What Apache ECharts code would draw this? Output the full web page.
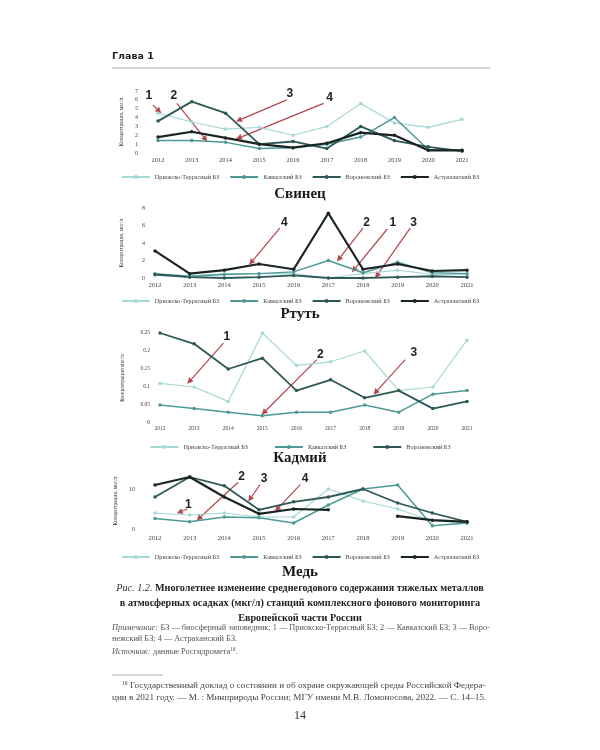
<!DOCTYPE html>
<html><head><meta charset="utf-8">
<script src="https://cdn.jsdelivr.net/npm/echarts@6/dist/echarts.min.js"></script>
<style>html,body{margin:0;padding:0;background:#fff}#c{width:600px;height:750px}</style>
</head><body><div id="c"></div>
<script>
const years = ['2012','2013','2014','2015','2016','2017','2018','2019','2020','2021'];
const nameP = 'Приокско-Террасный БЗ', nameK = 'Кавказский БЗ', nameV = 'Воронежский БЗ', nameA = 'Астраханский БЗ';
// Свинец
const pbPriok = [4.5,3.5,2.7,2.9,2.0,3.0,5.6,3.4,2.9,3.8];
const pbKavk  = [1.4,1.4,1.2,0.5,0.6,1.0,1.8,4.0,0.4,0.3];
const pbVoron = [3.6,5.8,4.5,1.0,1.3,0.5,3.0,1.4,0.7,0.2];
const pbAstr  = [1.8,2.4,1.7,1.0,0.6,1.1,2.3,2.0,0.3,0.3];
// Ртуть
const hgPriok = [0.3,0.2,0.5,0.5,0.5,0.0,0.5,0.9,0.4,0.4];
const hgKavk  = [0.5,0.2,0.4,0.5,0.7,2.0,0.6,1.8,0.6,0.5];
const hgVoron = [0.4,0.1,0.0,0.1,0.3,0.0,0.0,0.1,0.2,0.1];
const hgAstr  = [3.1,0.5,0.9,1.6,1.0,7.4,1.0,1.6,0.8,0.9];
// Кадмий
const cdPriok = [0.11,0.10,0.06,0.25,0.16,0.17,0.20,0.09,0.10,0.23];
const cdKavk  = [0.05,0.04,0.03,0.02,0.03,0.03,0.05,0.03,0.08,0.09];
const cdVoron = [0.25,0.22,0.15,0.18,0.09,0.12,0.07,0.09,0.04,0.06];
// Медь
const cuPriok = [4.0,3.5,4.0,3.0,3.0,10.0,7.0,5.0,2.0,1.5];
const cuKavk  = [2.6,1.8,3.0,2.8,1.5,6.0,10.0,11.0,0.8,1.5];
const cuVoron = [8.0,13.0,10.8,4.8,6.8,8.0,10.0,6.5,4.0,1.8];
const cuAstr  = [11.0,13.0,8.0,3.8,5.0,4.8,null,3.2,2.2,1.8];

const chartTitles = ['Свинец','Ртуть','Кадмий','Медь'];
const yNames = ['Концентрация, мкг/л','Концентрация, мкг/л','Концентрация мкг/л','Концентрация, мкг/л'];

const SERIF = 'Liberation Serif';
const styles = {};
styles[nameP] = {color:'#a6d8d5', width:1.2};
styles[nameK] = {color:'#4d9996', width:1.5};
styles[nameV] = {color:'#2e5855', width:1.8};
styles[nameA] = {color:'#1a2423', width:2.2};

const grids = [
  {left:158, right:138, top:91, height:62},
  {left:155, right:133, top:208, height:70},
  {left:160, right:133, top:333, height:90},
  {left:155, right:133, top:473, height:56}
];
const yCfg = [
  {min:0, max:7, interval:1, margin:20, nameGap:28},
  {min:0, max:8, interval:2, margin:10, nameGap:30},
  {min:0, max:0.25, interval:0.05, margin:10, nameGap:34},
  {min:0, max:14, interval:10, margin:20, nameGap:34}
];
const xMargin = [4,4,3,6];
const legendTop = [169, 293, 439, 549];

const chartSeries = [
  [[nameP,pbPriok],[nameK,pbKavk],[nameV,pbVoron],[nameA,pbAstr]],
  [[nameP,hgPriok],[nameK,hgKavk],[nameV,hgVoron],[nameA,hgAstr]],
  [[nameP,cdPriok],[nameK,cdKavk],[nameV,cdVoron]],
  [[nameP,cuPriok],[nameK,cuKavk],[nameV,cuVoron],[nameA,cuAstr]]
];

const series = [];
chartSeries.forEach((list, g) => {
  list.forEach(([nm, data]) => {
    const s = styles[nm];
    series.push({
      type:'line', name:nm, data:data, xAxisIndex:g, yAxisIndex:g,
      symbol:'circle', symbolSize:3.5, connectNulls:false, animation:false,
      lineStyle:{color:s.color, width:s.width}, itemStyle:{color:s.color},
      emphasis:{disabled:true}
    });
  });
});

const chart = echarts.init(document.getElementById('c'), null, {renderer:'canvas'});
chart.setOption({
  backgroundColor:'#fff',
  animation:false,
  grid: grids.map(g => Object.assign({containLabel:false}, g)),
  xAxis: grids.map((g,i) => ({
    type:'category', gridIndex:i, data:years, boundaryGap:false,
    axisLine:{show:false}, axisTick:{show:false}, splitLine:{show:false},
    axisLabel:{fontFamily:SERIF, fontSize: i===2?5.5:6.5, color:'#444', margin:xMargin[i], interval:0}
  })),
  yAxis: grids.map((g,i) => ({
    type:'value', gridIndex:i, min:yCfg[i].min, max:yCfg[i].max, interval:yCfg[i].interval,
    name:yNames[i], nameLocation:'middle', nameRotate:90, nameGap:yCfg[i].nameGap,
    nameTextStyle:{fontFamily:SERIF, fontSize:5.5, color:'#333'},
    axisLine:{show:false}, axisTick:{show:false}, splitLine:{show:false},
    axisLabel:{fontFamily:SERIF, fontSize: i===2?5.5:6, color:'#444', margin:yCfg[i].margin, showMaxLabel: i===3?false:true}
  })),
  legend: chartSeries.map((list,i) => ({
    top:legendTop[i], left:'center', itemWidth:28, itemHeight:5, itemGap: i===2?26:10,
    data:list.map(x=>x[0]), selectedMode:false,
    textStyle:{fontFamily:SERIF, fontSize:6.2, color:'#444'}
  })),
  series: series
});

// Annotation arrows (data-space positions: x = fractional year index, y = value)
const arrows = [
  {g:0, t:'1', lx:-0.27, ly:6.5, from:[-0.15,5.4], to:[0.1,4.5]},
  {g:0, t:'2', lx:0.47, ly:6.5, from:[0.56,5.6], to:[1.46,1.3]},
  {g:0, t:'3', lx:3.9, ly:6.7, from:[3.81,6.0], to:[2.31,3.56]},
  {g:0, t:'4', lx:5.08, ly:6.3, from:[4.9,5.6], to:[2.31,1.57]},
  {g:1, t:'4', lx:3.73, ly:6.3, from:[3.6,5.7], to:[2.72,1.52]},
  {g:1, t:'2', lx:6.1, ly:6.3, from:[6.0,5.7], to:[5.25,1.9]},
  {g:1, t:'1', lx:6.86, ly:6.3, from:[6.7,5.6], to:[5.68,0.65]},
  {g:1, t:'3', lx:7.46, ly:6.3, from:[7.36,5.7], to:[6.35,0.0]},
  {g:2, t:'1', lx:1.96, ly:0.241, from:[1.86,0.222], to:[0.80,0.109]},
  {g:2, t:'2', lx:4.7, ly:0.19, from:[4.6,0.176], to:[2.98,0.023]},
  {g:2, t:'3', lx:7.44, ly:0.194, from:[7.19,0.176], to:[6.26,0.079]},
  {g:3, t:'1', lx:0.96, ly:6.0, from:[0.93,5.0], to:[0.63,3.95]},
  {g:3, t:'2', lx:2.5, ly:13.2, from:[2.4,11.7], to:[1.2,2.1]},
  {g:3, t:'3', lx:3.15, ly:12.5, from:[3.03,11.1], to:[2.69,6.9]},
  {g:3, t:'4', lx:4.33, ly:12.5, from:[4.19,11.1], to:[3.46,4.4]}
];

function px(g, xi, yv) {
  const ym = yCfg[g].max;
  const p0 = chart.convertToPixel({gridIndex:g}, [0, 0]);
  const p1 = chart.convertToPixel({gridIndex:g}, [9, ym]);
  return [p0[0] + xi*(p1[0]-p0[0])/9, p0[1] + yv*(p1[1]-p0[1])/ym];
}

const els = [];
function txt(x, y, text, opt) {
  els.push({type:'text', x:x, y:y, silent:true, style:Object.assign({
    text:text, fill:'#222', fontFamily:SERIF, fontSize:10,
    align:'left', textAlign:'left', verticalAlign:'middle', textVerticalAlign:'middle'
  }, opt || {})});
}
const ARROW = '#b3474c';
arrows.forEach(a => {
  const f = px(a.g, a.from[0], a.from[1]);
  const t = px(a.g, a.to[0], a.to[1]);
  const l = px(a.g, a.lx, a.ly);
  const dx = t[0]-f[0], dy = t[1]-f[1], len = Math.hypot(dx,dy);
  const ux = dx/len, uy = dy/len, hl = 6, hw = 3;
  const bx = t[0]-ux*hl, by = t[1]-uy*hl;
  els.push({type:'line', silent:true, shape:{x1:f[0], y1:f[1], x2:bx, y2:by}, style:{stroke:ARROW, lineWidth:1.2}});
  els.push({type:'polygon', silent:true, shape:{points:[[t[0],t[1]],[bx-uy*hw, by+ux*hw],[bx+uy*hw, by-ux*hw]]}, style:{fill:ARROW}});
  txt(l[0], l[1], a.t, {fontFamily:'Liberation Sans', fontWeight:'bold', fontSize:12, fill:'#222', align:'center', textAlign:'center'});
});

// Page header
txt(112, 57, 'Глава 1', {fontFamily:'DejaVu Sans', fontWeight:'bold', fontSize:9.5, fill:'#222'});
els.push({type:'line', silent:true, shape:{x1:112, y1:68, x2:490, y2:68}, style:{stroke:'#aaa', lineWidth:1}});

// Chart titles
const titleY = [194, 314, 458, 572];
chartTitles.forEach((t,i) => txt(300, titleY[i], t, {fontWeight:'bold', fontSize:15, fill:'#1a1a1a', align:'center', textAlign:'center'}));

// Caption
const capRich = {
  i:{fontStyle:'italic', fontFamily:SERIF, fontSize:10.2, fill:'#333', color:'#333'},
  b:{fontWeight:'bold', fontFamily:SERIF, fontSize:10.2, fill:'#222', color:'#222'}
};
txt(300, 588, '{i|Рис. 1.2.} {b|Многолетнее изменение среднегодового содержания тяжелых металлов}', {align:'center', textAlign:'center', rich:capRich});
txt(300, 603, '{b|в атмосферных осадках (мкг/л) станций комплексного фонового мониторинга}', {align:'center', textAlign:'center', rich:capRich});
txt(300, 618, '{b|Европейской части России}', {align:'center', textAlign:'center', rich:capRich});

const noteRich = {
  i:{fontStyle:'italic', fontFamily:SERIF, fontSize:8.3, fill:'#555', color:'#555'},
  n:{fontFamily:SERIF, fontSize:8.3, fill:'#555', color:'#555'},
  s:{fontFamily:SERIF, fontSize:5.5, fill:'#555', color:'#555', verticalAlign:'top', padding:[0,0,5,0]}
};
txt(112, 628, '{i|Примечание:} {n|БЗ — биосферный заповедник; 1 — Приокско-Террасный БЗ; 2 — Кавказский БЗ; 3 — Воро-}', {rich:noteRich});
txt(112, 639, '{n|нежский БЗ; 4 — Астраханский БЗ.}', {rich:noteRich});
txt(112, 652, '{i|Источник:} {n|данные Росгидромета}{s|16}{n|.}', {rich:noteRich});

els.push({type:'line', silent:true, shape:{x1:112, y1:675, x2:163, y2:675}, style:{stroke:'#999', lineWidth:0.8}});
const fnRich = {
  n:{fontFamily:SERIF, fontSize:9.2, fill:'#444', color:'#444'},
  s:{fontFamily:SERIF, fontSize:5.5, fill:'#444', color:'#444', padding:[0,0,5,0]}
};
txt(122, 686, '{s|16} {n|Государственный доклад о состоянии и об охране окружающей среды Российской Федера-}', {rich:fnRich});
txt(112, 698, '{n|ции в 2021 году. — М. : Минприроды России; МГУ имени М.В. Ломоносова, 2022. — С. 14–15.}', {rich:fnRich});
txt(300, 716, '14', {fontSize:12, fill:'#333', align:'center', textAlign:'center'});

chart.setOption({graphic:{elements:els}});
</script></body></html>
